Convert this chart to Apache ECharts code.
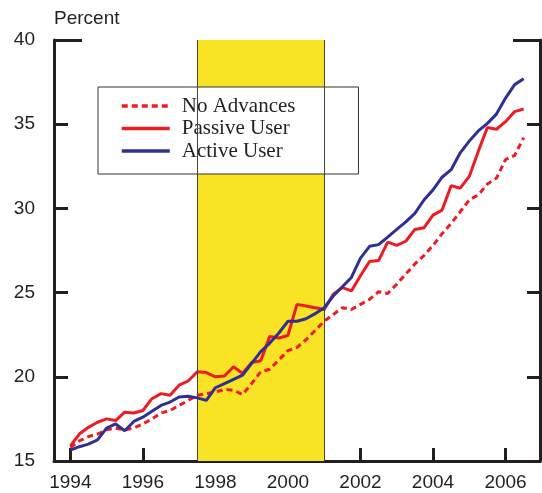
<!DOCTYPE html>
<html>
<head>
<meta charset="utf-8">
<script src="https://cdn.jsdelivr.net/npm/echarts@6/dist/echarts.min.js"></script>
<style>
html,body{margin:0;padding:0;background:#fff;}
#chart{width:542px;height:493px;}
</style>
</head>
<body>
<div id="chart"></div>
<script>
var quarters = [1994.00,1994.25,1994.50,1994.75,1995.00,1995.25,1995.50,1995.75,
  1996.00,1996.25,1996.50,1996.75,1997.00,1997.25,1997.50,1997.75,
  1998.00,1998.25,1998.50,1998.75,1999.00,1999.25,1999.50,1999.75,
  2000.00,2000.25,2000.50,2000.75,2001.00,2001.25,2001.50,2001.75,
  2002.00,2002.25,2002.50,2002.75,2003.00,2003.25,2003.50,2003.75,
  2004.00,2004.25,2004.50,2004.75,2005.00,2005.25,2005.50,2005.75,
  2006.00,2006.25,2006.50];

var noAdvances = [15.8,16.2,16.45,16.6,16.85,16.95,16.85,16.95,
  17.2,17.5,17.85,18.0,18.3,18.6,18.9,19.0,
  19.1,19.25,19.2,18.95,19.6,20.3,20.45,21.0,
  21.55,21.75,22.2,22.75,23.3,23.7,24.1,24.0,
  24.3,24.6,25.05,24.95,25.5,26.1,26.7,27.2,
  27.8,28.5,29.1,29.8,30.5,30.8,31.45,31.8,
  32.9,33.15,34.2];

var passiveUser = [15.9,16.6,17.0,17.3,17.5,17.4,17.9,17.85,
  18.0,18.7,19.0,18.9,19.5,19.75,20.3,20.25,
  20.0,20.05,20.6,20.2,20.85,20.95,22.4,22.3,
  22.45,24.3,24.2,24.1,24.0,24.9,25.3,25.1,
  26.0,26.85,26.9,28.0,27.8,28.05,28.75,28.85,
  29.6,29.9,31.35,31.2,31.9,33.4,34.8,34.7,
  35.15,35.75,35.9];

var activeUser = [15.65,15.85,16.0,16.25,16.95,17.2,16.8,17.35,
  17.6,17.95,18.3,18.5,18.8,18.85,18.75,18.6,
  19.35,19.6,19.85,20.1,20.8,21.5,22.0,22.6,
  23.3,23.3,23.45,23.75,24.1,24.8,25.35,25.9,
  27.05,27.75,27.85,28.3,28.75,29.2,29.7,30.5,
  31.1,31.85,32.3,33.3,34.0,34.6,35.05,35.6,
  36.55,37.35,37.7];

var xTickYears = [1994,1996,1998,2000,2002,2004,2006];
var bandRange = [1997.5, 2001.0];
var seriesNames = ['No Advances','Passive User','Active User'];

function pairs(vals){ return quarters.map(function(q,i){ return [q, vals[i]]; }); }

var ink = '#231F20';
var red = '#ED1C24';
var blue = '#2E3192';
var yellow = '#F8E324';

var chart = echarts.init(document.getElementById('chart'), null, {renderer:'canvas'});
chart.setOption({
  animation: false,
  grid: {left: 54, right: 2, top: 40, bottom: 32, containLabel: false},
  legend: {
    data: seriesNames,
    orient: 'vertical',
    left: 98, top: 87,
    itemWidth: 48, itemHeight: 14, itemGap: 0.5,
    padding: [8, 63, 12, 22],
    backgroundColor: '#fff',
    borderColor: '#333', borderWidth: 1,
    itemStyle: {opacity: 0},
    lineStyle: {width: 3.5},
    textStyle: {fontFamily: 'Liberation Serif', fontSize: 21, color: ink, lineHeight: 22, padding: [0,0,0,7]}
  },
  xAxis: {
    type: 'value', min: 1993.55, max: 2006.95,
    splitLine: {show: false},
    axisLine: {show: true, lineStyle: {color: ink, width: 3}},
    axisTick: {show: true, inside: true, length: 13, lineStyle: {color: ink, width: 3}, customValues: xTickYears},
    axisLabel: {customValues: xTickYears, formatter: function(v){return String(v);}, fontFamily: 'Liberation Sans', fontSize: 19, color: ink, margin: 12}
  },
  yAxis: [
    {
      type: 'value', min: 15, max: 40, interval: 5, position: 'left',
      name: 'Percent', nameLocation: 'end', nameGap: 12,
      nameTextStyle: {align: 'left', fontFamily: 'Liberation Sans', fontSize: 19, color: ink},
      splitLine: {show: false},
      axisLine: {show: true, lineStyle: {color: ink, width: 3}},
      axisTick: {show: true, inside: true, length: 14, lineStyle: {color: ink, width: 3}},
      axisLabel: {fontFamily: 'Liberation Sans', fontSize: 19, color: ink, margin: 19}
    },
    {
      type: 'value', min: 15, max: 40, interval: 5, position: 'right',
      splitLine: {show: false},
      axisLine: {show: true, lineStyle: {color: ink, width: 3}},
      axisTick: {show: true, inside: true, length: 13, lineStyle: {color: ink, width: 3}},
      axisLabel: {show: false}
    },
    {
      type: 'value', min: 15, max: 40, position: 'left',
      splitLine: {show: false}, axisLine: {show: false},
      axisTick: {show: true, inside: true, length: 28, lineStyle: {color: ink, width: 3}, customValues: [40]},
      axisLabel: {show: false}
    },
    {
      type: 'value', min: 15, max: 40, position: 'right',
      splitLine: {show: false}, axisLine: {show: false},
      axisTick: {show: true, inside: true, length: 27, lineStyle: {color: ink, width: 3}, customValues: [40]},
      axisLabel: {show: false}
    }
  ],
  series: [
    {
      name: 'band', type: 'line', data: [], z: 1, silent: true,
      markArea: {silent: true, itemStyle: {color: yellow, borderWidth: 0}, data: [[{xAxis: bandRange[0]}, {xAxis: bandRange[1]}]]},
      markLine: {silent: true, symbol: 'none', label: {show: false}, lineStyle: {color: '#444', width: 1, type: 'solid'},
        data: [{xAxis: bandRange[0]}, {xAxis: bandRange[1]}]}
    },
    {
      name: seriesNames[0], type: 'line', symbol: 'none', showSymbol: false, z: 3,
      color: red, lineStyle: {color: red, width: 3, type: [6, 4]},
      data: pairs(noAdvances)
    },
    {
      name: seriesNames[1], type: 'line', symbol: 'none', showSymbol: false, z: 4,
      color: red, lineStyle: {color: red, width: 3},
      data: pairs(passiveUser)
    },
    {
      name: seriesNames[2], type: 'line', symbol: 'none', showSymbol: false, z: 5,
      color: blue, lineStyle: {color: blue, width: 3},
      data: pairs(activeUser)
    }
  ]
});
</script>
</body>
</html>
